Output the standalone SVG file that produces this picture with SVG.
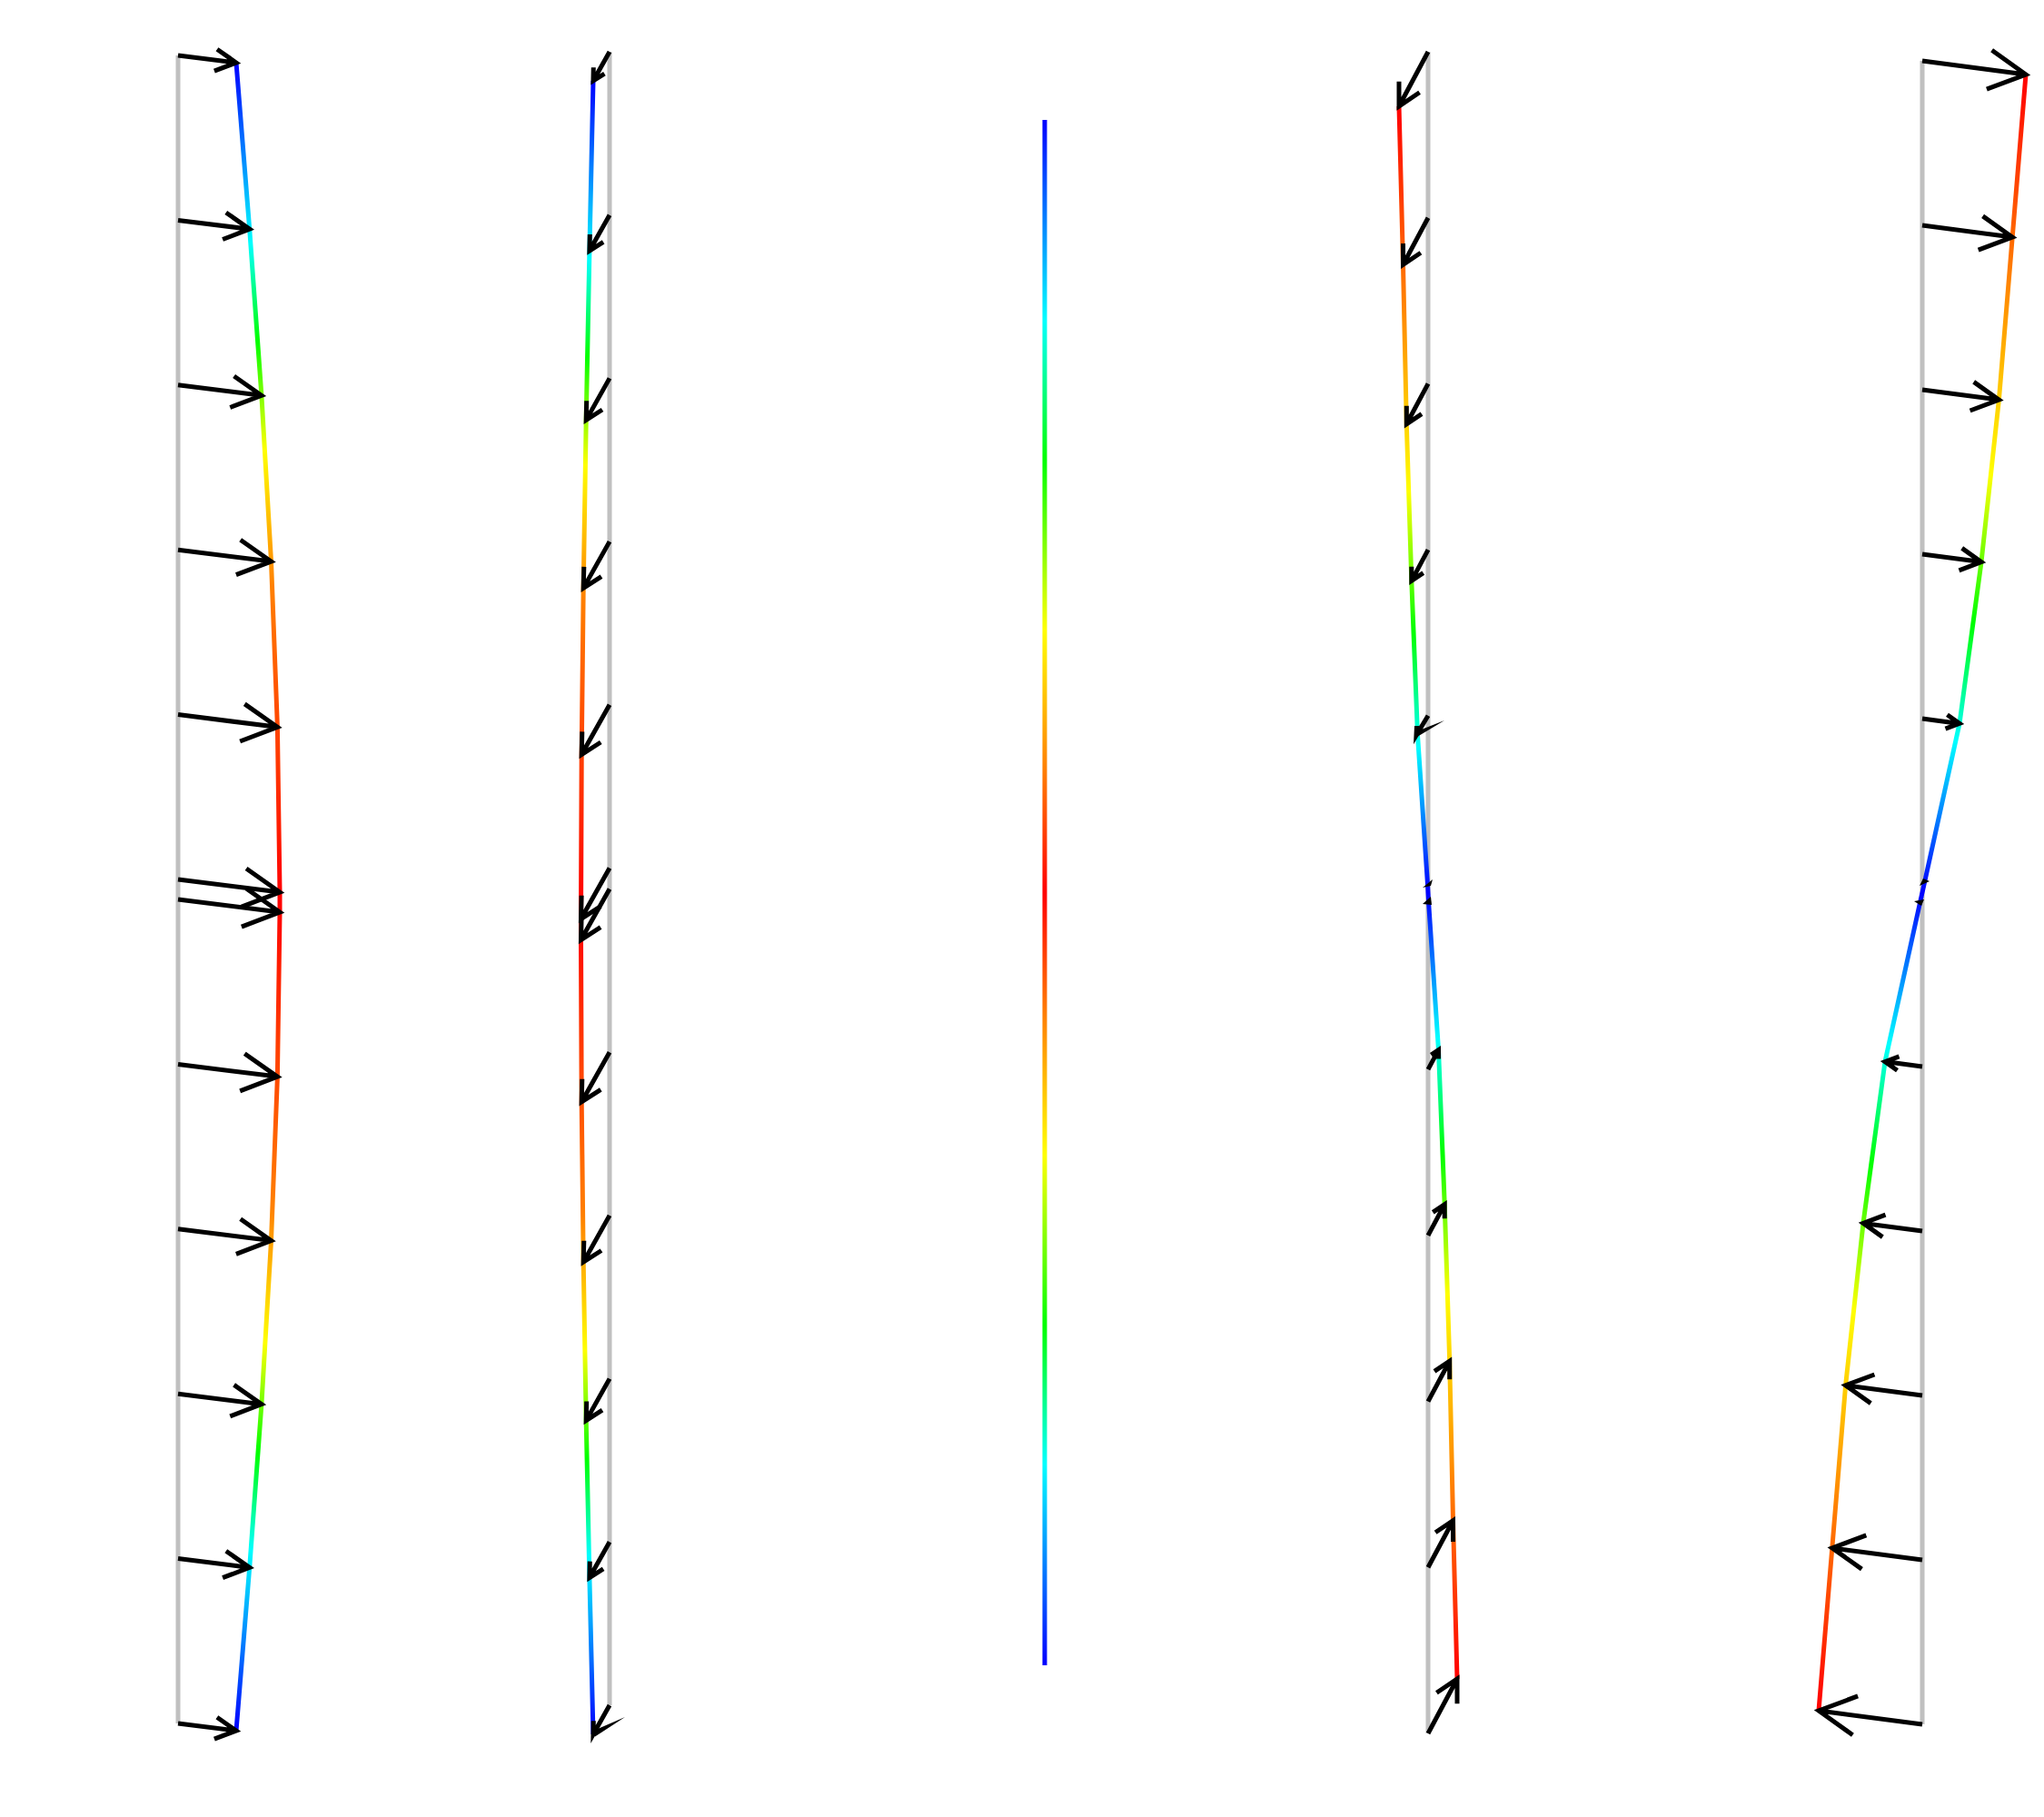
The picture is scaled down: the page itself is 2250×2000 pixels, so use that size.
<svg xmlns="http://www.w3.org/2000/svg" width="2250" height="2000" viewBox="0 0 2250 2000">
<style>
.base{stroke:#c0c0c0;stroke-width:5;fill:none}
.crv{fill:none;stroke-width:5;stroke-linejoin:round}
.ar{fill:none;stroke:#000;stroke-width:5;stroke-linecap:butt;stroke-linejoin:miter;stroke-miterlimit:10}
.blob{fill:#000;stroke:none}
</style>
<defs>
<linearGradient id="g1" gradientUnits="userSpaceOnUse" x1="0" y1="69" x2="0" y2="1905">
<stop offset="0" stop-color="#0000ff"/><stop offset="0.0533" stop-color="#0080ff"/><stop offset="0.1082" stop-color="#00ffff"/><stop offset="0.1667" stop-color="#00ff00"/><stop offset="0.2323" stop-color="#ffff00"/><stop offset="0.3136" stop-color="#ff8000"/><stop offset="0.5" stop-color="#ff0000"/><stop offset="0.6864" stop-color="#ff8000"/><stop offset="0.7677" stop-color="#ffff00"/><stop offset="0.8333" stop-color="#00ff00"/><stop offset="0.8918" stop-color="#00ffff"/><stop offset="0.9467" stop-color="#0080ff"/><stop offset="1" stop-color="#0000ff"/>
</linearGradient>
<linearGradient id="g2" href="#g1" gradientUnits="userSpaceOnUse" x1="0" y1="89" x2="0" y2="1909"/>
<linearGradient id="g3" gradientUnits="userSpaceOnUse" x1="0" y1="132" x2="0" y2="1833">
<stop offset="0" stop-color="#0000ff"/><stop offset="0.065" stop-color="#0080ff"/><stop offset="0.13" stop-color="#00ffff"/><stop offset="0.22" stop-color="#00ff00"/><stop offset="0.33" stop-color="#ffff00"/><stop offset="0.42" stop-color="#ff8000"/><stop offset="0.5" stop-color="#ff0000"/><stop offset="0.58" stop-color="#ff8000"/><stop offset="0.67" stop-color="#ffff00"/><stop offset="0.78" stop-color="#00ff00"/><stop offset="0.87" stop-color="#00ffff"/><stop offset="0.935" stop-color="#0080ff"/><stop offset="1" stop-color="#0000ff"/>
</linearGradient>
<linearGradient id="g4" gradientUnits="userSpaceOnUse" x1="0" y1="117" x2="0" y2="1848">
<stop offset="0" stop-color="#ff0000"/><stop offset="0.1232" stop-color="#ff8000"/><stop offset="0.2448" stop-color="#ffff00"/><stop offset="0.3345" stop-color="#00ff00"/><stop offset="0.4073" stop-color="#00ffff"/><stop offset="0.4534" stop-color="#0080ff"/><stop offset="0.5" stop-color="#0000ff"/><stop offset="0.5466" stop-color="#0080ff"/><stop offset="0.5927" stop-color="#00ffff"/><stop offset="0.6655" stop-color="#00ff00"/><stop offset="0.7552" stop-color="#ffff00"/><stop offset="0.8768" stop-color="#ff8000"/><stop offset="1" stop-color="#ff0000"/>
</linearGradient>
<linearGradient id="g5" href="#g4" gradientUnits="userSpaceOnUse" x1="0" y1="82" x2="0" y2="1883"/>
</defs>
<rect width="2250" height="2000" fill="#ffffff"/>

<g id="panel1">
<line class="base" x1="196" y1="61" x2="196" y2="1897"/>
<polyline class="crv" stroke="url(#g1)" points="260,69 274.7,252.2 287.9,435.3 298.5,618 305.4,800.3 308,982 308,1004 305.4,1185.1 298.5,1365.6 287.9,1545.7 274.7,1725.4 260,1905"/>
<g id="arrows1">
<path class="ar" d="M196,61 L260,69 M239,54.2 L260,69 L235.9,78.2"/>
<path class="ar" d="M196,242.4 L274.7,252.2 M248.8,234 L274.7,252.2 L245.1,263.5"/>
<path class="ar" d="M196,423.8 L287.9,435.3 M257.6,414 L287.9,435.3 L253.3,448.5"/>
<path class="ar" d="M196,605.2 L298.5,618 M264.7,594.2 L298.5,618 L259.9,632.7"/>
<path class="ar" d="M196,786.6 L305.4,800.3 M269.3,774.9 L305.4,800.3 L264.2,816"/>
<path class="ar" d="M196,968 L308,982 M271.1,956 L308,982 L265.9,998.1"/>
<path class="ar" d="M196,990 L308,1004 M271.1,978 L308,1004 L265.9,1020.1"/>
<path class="ar" d="M196,1171.4 L305.4,1185.1 M269.3,1159.7 L305.4,1185.1 L264.2,1200.8"/>
<path class="ar" d="M196,1352.8 L298.5,1365.6 M264.7,1341.8 L298.5,1365.6 L259.9,1380.3"/>
<path class="ar" d="M196,1534.2 L287.9,1545.7 M257.6,1524.4 L287.9,1545.7 L253.3,1558.9"/>
<path class="ar" d="M196,1715.6 L274.7,1725.4 M248.8,1707.2 L274.7,1725.4 L245.1,1736.7"/>
<path class="ar" d="M196,1897 L260,1905 M238.9,1890.2 L260,1905 L235.9,1914.2"/>
</g>
</g>

<g id="panel2">
<line class="base" x1="671" y1="57" x2="671" y2="1877"/>
<polyline class="crv" stroke="url(#g2)" points="653,89 648.9,276 645.2,462.4 642.2,647.4 640.2,830.5 639.5,1011.5 639.5,1034.5 640.2,1212.9 642.2,1389.2 645.2,1563.6 648.9,1736.6 653,1909"/>
<g id="arrows2">
<path class="ar" d="M671,57 L653,89 M665.4,81.1 L653,89 L653.3,74.3"/>
<path class="ar" d="M671,236.7 L648.9,276 M664.1,266.3 L648.9,276 L649.3,258"/>
<path class="ar" d="M671,416.4 L645.2,462.4 M663,451 L645.2,462.4 L645.7,441.3"/>
<path class="ar" d="M671,596.1 L642.2,647.4 M662,634.7 L642.2,647.4 L642.8,623.9"/>
<path class="ar" d="M671,775.8 L640.2,830.5 M661.3,817 L640.2,830.5 L640.8,805.4"/>
<path class="ar" d="M671,955.5 L639.5,1011.5 M661.1,997.6 L639.5,1011.5 L640.1,985.8"/>
<path class="ar" d="M671,978.5 L639.5,1034.5 M661.1,1020.6 L639.5,1034.5 L640.1,1008.8"/>
<path class="ar" d="M671,1158.2 L640.2,1212.9 M661.3,1199.4 L640.2,1212.9 L640.8,1187.8"/>
<path class="ar" d="M671,1337.9 L642.2,1389.2 M662,1376.5 L642.2,1389.2 L642.8,1365.7"/>
<path class="ar" d="M671,1517.6 L645.2,1563.6 M663,1552.2 L645.2,1563.6 L645.7,1542.5"/>
<path class="ar" d="M671,1697.3 L648.9,1736.6 M664.1,1726.9 L648.9,1736.6 L649.3,1718.6"/>
<path class="ar" d="M671,1877 L653,1909 L653.3,1894.3"/>
<polygon class="blob" points="651,1906 655,1911.5 688,1890"/>
</g>
</g>

<g id="panel3">
<line class="crv" stroke="url(#g3)" x1="1150" y1="132" x2="1150" y2="1833"/>
</g>

<g id="panel4">
<line class="base" x1="1572" y1="57" x2="1572" y2="1908"/>
<polyline class="crv" stroke="url(#g4)" points="1540,117 1544.5,291.3 1548.3,466.8 1553.8,639.3 1560.5,809.4 1571.4,971.7 1572.6,993.3 1583.5,1155.6 1590.2,1325.7 1595.7,1498.2 1599.5,1673.7 1604,1848"/>
<g id="arrows4">
<path class="ar" d="M1572,57 L1540,117 M1562.6,101.8 L1540,117 L1540,89.8"/>
<path class="ar" d="M1572,239.7 L1544.5,291.3 M1563.9,278.2 L1544.5,291.3 L1544.5,267.9"/>
<path class="ar" d="M1572,422.4 L1548.3,466.8 M1565,455.6 L1548.3,466.8 L1548.3,446.7"/>
<path class="ar" d="M1572,605.1 L1553.8,639.3 M1566.7,630.6 L1553.8,639.3 L1553.8,623.8"/>
<path class="ar" d="M1572,787.8 L1559,809.4 L1559.5,799"/>
<polygon class="blob" points="1557,806 1560,811 1590,793"/>
<polygon class="blob" points="1566,977 1577,968 1575,975"/>
<polygon class="blob" points="1566,995 1575,987 1576,996"/>
<path class="ar" d="M1572,1177.2 L1583.5,1155.6 M1575.4,1161.1 L1583.5,1155.6 L1583.5,1165.4"/>
<path class="ar" d="M1572,1359.9 L1590.2,1325.7 M1577.3,1334.4 L1590.2,1325.7 L1590.2,1341.2"/>
<path class="ar" d="M1572,1542.6 L1595.7,1498.2 M1579,1509.4 L1595.7,1498.2 L1595.7,1518.3"/>
<path class="ar" d="M1572,1725.3 L1599.5,1673.7 M1580.1,1686.8 L1599.5,1673.7 L1599.5,1697.1"/>
<path class="ar" d="M1572,1908 L1604,1848 M1581.4,1863.2 L1604,1848 L1604,1875.2"/>
</g>
</g>

<g id="panel5">
<line class="base" x1="2116" y1="67" x2="2116" y2="1898"/>
<polyline class="crv" stroke="url(#g5)" points="2230,82 2215.2,261.1 2200.4,440.1 2181,618.6 2157,796.4 2118.3,972.3 2113.7,992.7 2075,1168.6 2051,1346.4 2031.6,1524.9 2016.8,1703.9 2002,1883"/>
<g id="arrows5">
<path class="ar" d="M2116,67 L2230,82 M2192.6,55.3 L2230,82 L2186.9,98.1"/>
<path class="ar" d="M2116,248 L2215.2,261.1 M2182.6,237.9 L2215.2,261.1 L2177.7,275.1"/>
<path class="ar" d="M2116,429 L2200.4,440.1 M2172.7,420.4 L2200.4,440.1 L2168.6,452"/>
<path class="ar" d="M2116,610 L2181,618.6 M2159.7,603.4 L2181,618.6 L2156.5,627.8"/>
<path class="ar" d="M2116,791 L2157,796.4 M2143.5,786.8 L2157,796.4 L2141.5,802.2"/>
<polygon class="blob" points="2113,975 2124,970 2117,967"/>
<polygon class="blob" points="2107,992 2118,990 2115,997"/>
<path class="ar" d="M2116,1174 L2075,1168.6 M2088.5,1178.2 L2075,1168.6 L2090.5,1162.8"/>
<path class="ar" d="M2116,1355 L2051,1346.4 M2072.3,1361.6 L2051,1346.4 L2075.5,1337.2"/>
<path class="ar" d="M2116,1536 L2031.6,1524.9 M2059.3,1544.6 L2031.6,1524.9 L2063.4,1513"/>
<path class="ar" d="M2116,1717 L2016.8,1703.9 M2049.4,1727.1 L2016.8,1703.9 L2054.3,1689.9"/>
<path class="ar" d="M2116,1898 L2002,1883 M2039.4,1909.7 L2002,1883 L2045.1,1866.9"/>
</g>
</g>
</svg>
